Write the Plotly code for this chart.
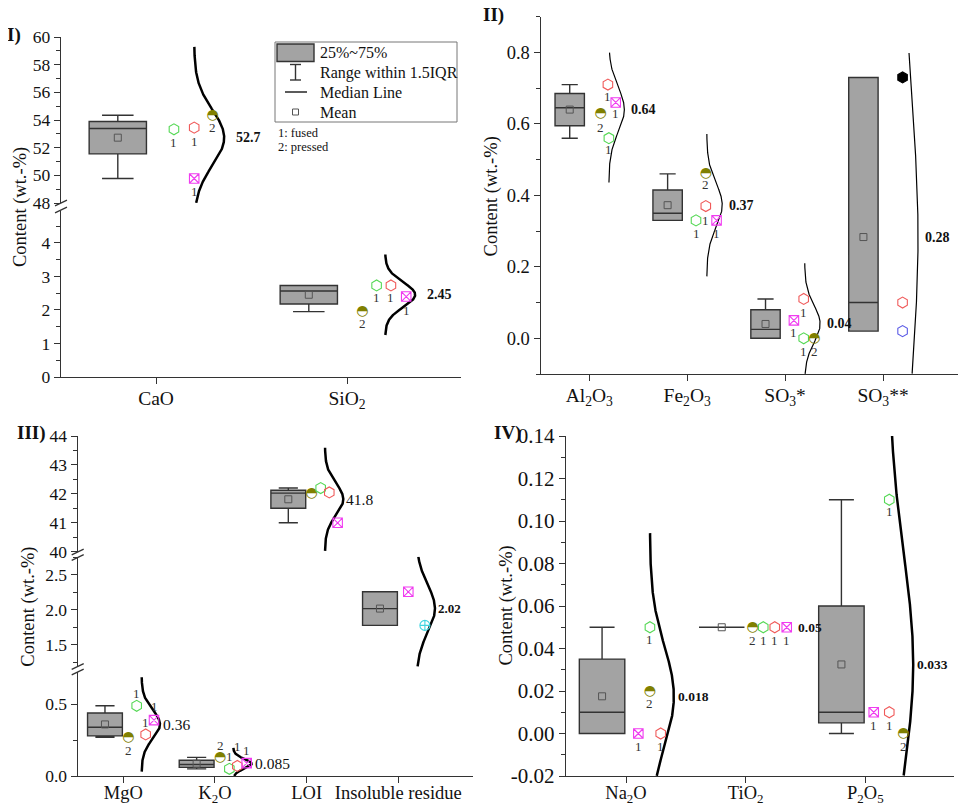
import numpy as np
import plotly.graph_objects as go
from decimal import Decimal, ROUND_HALF_UP

# page body has an 8 px margin: the figure is drawn at (8, 8) in the window
OFF = 8
W, H = 966 - 2 * OFF, 812 - 2 * OFF
FONT = "Liberation Serif"
AX = "#333333"

# ============================ DATA ============================
# point series keys: g = green, r = red, o = olive (pressed), m = magenta,
#                    b = blue, k = black, c = cyan
# Panel I
cats_I = ["CaO", "SiO<sub>2</sub>"]
CaO = [53.33, 53.45, 54.34, 49.77]
CaO_ser = ["g", "r", "o", "m"]
CaO_prep = ["1", "1", "2", "1"]
SiO2 = [1.95, 2.73, 2.73, 2.40]
SiO2_ser = ["o", "g", "r", "m"]
SiO2_prep = ["2", "1", "1", "1"]

# Panel II
cats_II = ["Al<sub>2</sub>O<sub>3</sub>", "Fe<sub>2</sub>O<sub>3</sub>",
           "SO<sub>3</sub>*", "SO<sub>3</sub>**"]
Al2O3 = [0.71, 0.66, 0.63, 0.56]
Al2O3_ser = ["r", "m", "o", "g"]
Al2O3_prep = ["1", "1", "2", "1"]
Fe2O3 = [0.46, 0.37, 0.33, 0.33]
Fe2O3_ser = ["o", "r", "g", "m"]
Fe2O3_prep = ["2", "1", "1", "1"]
SO3a = [0.11, 0.05, 0.00, 0.00]
SO3a_ser = ["r", "m", "g", "o"]
SO3a_prep = ["1", "1", "1", "2"]
SO3b = [0.73, 0.10, 0.02]
SO3b_ser = ["k", "r", "b"]
SO3b_prep = ["", "", ""]

# Panel III
cats_III = ["MgO", "K<sub>2</sub>O", "LOI", "Insoluble residue"]
MgO = [0.49, 0.39, 0.29, 0.27]
MgO_ser = ["g", "m", "r", "o"]
MgO_prep = ["1", "1", "1", "2"]
K2O = [0.13, 0.05, 0.07, 0.09]
K2O_ser = ["o", "g", "r", "m"]
K2O_prep = ["2", "1", "1", "1"]
LOI = [42.00, 42.20, 42.05, 41.00]
LOI_ser = ["o", "g", "r", "m"]
LOI_prep = ["", "", "", ""]
Insol = [2.26, 1.78]
Insol_ser = ["m", "c"]
Insol_prep = ["", ""]

# Panel IV
cats_IV = ["Na<sub>2</sub>O", "TiO<sub>2</sub>", "P<sub>2</sub>O<sub>5</sub>"]
Na2O = [0.05, 0.02, 0.00, 0.00]
Na2O_ser = ["g", "o", "m", "r"]
Na2O_prep = ["1", "2", "1", "1"]
TiO2 = [0.05, 0.05, 0.05, 0.05]
TiO2_ser = ["o", "g", "r", "m"]
TiO2_prep = ["2", "1", "1", "1"]
P2O5 = [0.11, 0.01, 0.01, 0.00]
P2O5_ser = ["g", "m", "r", "o"]
P2O5_prep = ["1", "1", "1", "2"]

# decimals of the printed mean values
mean_dec = {"CaO": 1, "SiO2": 2, "Al2O3": 2, "Fe2O3": 2, "SO3a": 2, "SO3b": 2,
            "MgO": 2, "K2O": 3, "LOI": 1, "Insol": 2, "Na2O": 3, "TiO2": 2, "P2O5": 3}

# ============================ STYLE / LAYOUT ============================
def PX(x):
    return min(1.0, max(0.0, (x - OFF) / W))


def PY(y):
    return min(1.0, max(0.0, 1 - (y - OFF) / H))


MARK = {
    "g": dict(symbol="hexagon-open", color="#55d855", size=11),
    "r": dict(symbol="hexagon-open", color="#f05a5a", size=11),
    "m": dict(symbol="square-x-open", color="#f03cf0", size=9.5),
    "b": dict(symbol="hexagon-open", color="#5a5ae6", size=11),
    "k": dict(symbol="hexagon", color="#000000", size=11),
    "c": dict(symbol="circle-cross-open", color="#40d4e0", size=10),
}
OLIVE = "#808000"

# per-point horizontal offsets (category units) and label vertical shifts (px)
point_off = {
    "CaO": [0.094, 0.20, 0.297, 0.20], "SiO2": [0.08, 0.155, 0.23, 0.31],
    "Al2O3": [0.19, 0.27, 0.115, 0.20], "Fe2O3": [0.19, 0.19, 0.09, 0.30],
    "SO3a": [0.19, 0.09, 0.19, 0.30], "SO3b": [0.20, 0.20, 0.20],
    "MgO": [0.146, 0.335, 0.244, 0.055], "K2O": [0.055, 0.157, 0.244, 0.346],
    "LOI": [0.055, 0.153, 0.247, 0.338], "Insol": [0.109, 0.29],
    "Na2O": [0.20, 0.20, 0.103, 0.29], "TiO2": [0.058, 0.147, 0.243, 0.343],
    "P2O5": [0.20, 0.07, 0.20, 0.317],
}
label_dy = {
    "CaO": [-13, -14, -12, -13], "SiO2": [-12, -12, -12, -14],
    "Al2O3": [-12, -11, -14, -11], "Fe2O3": [-11, -14, -13, -13],
    "SO3a": [-14, -12, -13, -13], "SO3b": [0, 0, 0],
    "MgO": [12, 14, 12, -13], "K2O": [12, 12, 19, 13],
    "LOI": [0, 0, 0, 0], "Insol": [0, 0],
    "Na2O": [-12, -12, -13, -13], "TiO2": [-13, -13, -13, -13],
    "P2O5": [-12, -13, -13, -13],
}

panels = [
    dict(xa="x", cats=cats_I, xpx=(61, 461), tick1=156, unit=191.0,
         amp=0.157, boxw=0.30, curve_w=2.5, vshift=10, xfs=19.5, stand=-3,
         items=[("CaO", CaO, CaO_ser, CaO_prep, "y2", True, 14),
                ("SiO2", SiO2, SiO2_ser, SiO2_prep, "y", True, 14)]),
    dict(xa="x2", cats=cats_II, xpx=(540.7, 958), tick1=589.3, unit=97.9,
         amp=0.158, boxw=0.30, curve_w=1.2, vshift=5, xfs=19.5, stand=-3,
         items=[("Al2O3", Al2O3, Al2O3_ser, Al2O3_prep, "y3", True, 14),
                ("Fe2O3", Fe2O3, Fe2O3_ser, Fe2O3_prep, "y3", True, 14),
                ("SO3a", SO3a, SO3a_ser, SO3a_prep, "y3", True, 14),
                ("SO3b", SO3b, SO3b_ser, SO3b_prep, "y3", True, 14)]),
    dict(xa="x3", cats=cats_III, xpx=(77.7, 472.7), tick1=123.3, unit=91.67,
         amp=0.20, boxw=0.38, curve_w=2.5, vshift=1, xfs=18.5, stand=-6,
         items=[("MgO", MgO, MgO_ser, MgO_prep, "y4", False, 15.5),
                ("K2O", K2O, K2O_ser, K2O_prep, "y4", False, 15.5),
                ("LOI", LOI, LOI_ser, LOI_prep, "y6", False, 15.5),
                ("Insol", Insol, Insol_ser, Insol_prep, "y5", True, 13)]),
    dict(xa="x4", cats=cats_IV, xpx=(566, 954), tick1=626, unit=119.67,
         amp=0.20, boxw=0.38, curve_w=2.5, vshift=2, xfs=18.5, stand=-6,
         items=[("Na2O", Na2O, Na2O_ser, Na2O_prep, "y7", True, 13.5),
                ("TiO2", TiO2, TiO2_ser, TiO2_prep, "y7", True, 13.5),
                ("P2O5", P2O5, P2O5_ser, P2O5_prep, "y7", True, 13.5)]),
]

# y axes: pixel domain (bottom, top), range, major / minor step, decimals, anchor, font size
yaxes = {
    "y":  dict(px=(377, 211), rng=(0, 4.95), d=1, md=0.5, dec=0, anchor="x", fs=17.5),
    "y2": dict(px=(203, 37), rng=(48, 60), d=2, md=1, dec=0, anchor="x", fs=17.5),
    "y3": dict(px=(374, 16.7), rng=(-0.1, 0.9), d=0.2, md=0.1, dec=1, anchor="x2", fs=18.5),
    "y4": dict(px=(776, 671.7), rng=(0, 0.728), d=0.5, md=0.25, dec=1, anchor="x3", fs=17.5),
    "y5": dict(px=(666.7, 556.7), rng=(1.19, 2.761), d=0.5, md=0.25, dec=1, anchor="x3", fs=17.5),
    "y6": dict(px=(551.7, 436), rng=(40, 44), d=1, md=0.5, dec=0, anchor="x3", fs=17.5),
    "y7": dict(px=(776, 436), rng=(-0.02, 0.14), d=0.02, md=0.01, dec=2, anchor="x4", fs=21),
}
curve_clip = {"y3": (-0.1, 0.8)}
x_anchor = {"x": "y", "x2": "y3", "x3": "y4", "x4": "y7"}


def fmt_mean(m, d):
    q = Decimal(1).scaleb(-d)
    return str(Decimal(repr(round(float(m), 9))).quantize(q, rounding=ROUND_HALF_UP))


def tick_list(lo, hi, step, start):
    k0 = int(np.ceil((lo - start) / step - 1e-9))
    k1 = int(np.floor((hi - start) / step + 1e-9))
    return [round(start + k * step, 6) + 0.0 for k in range(k0, k1 + 1)]


fig = go.Figure()
annotations = []
shapes = []

for P in panels:
    xa = P["xa"]
    for ci, (key, vals, ser, prep, ya, bold, fs) in enumerate(P["items"]):
        pos = ci + 1
        v = np.array(vals, dtype=float)
        n = len(v)
        # box (quartiles computed by plotly from the values)
        fig.add_trace(go.Box(
            x=[pos - 0.2] * n, y=v, xaxis=xa, yaxis=ya, width=P["boxw"],
            boxpoints=False, quartilemethod="exclusive", whiskerwidth=0.55,
            fillcolor="#a3a3a3", line=dict(color=AX, width=1.4),
            showlegend=False, hoverinfo="skip"))
        m = float(v.mean())
        # mean marker
        fig.add_trace(go.Scatter(
            x=[pos - 0.2], y=[m], xaxis=xa, yaxis=ya, mode="markers",
            marker=dict(symbol="square-open", size=7, color="#555555",
                        line=dict(width=1)),
            showlegend=False, hoverinfo="skip"))
        # normal distribution curve fitted to the points
        if n > 1 and v.std(ddof=1) > 0:
            s = v.std(ddof=1)
            z = np.linspace(-3.25, 3.25, 801)
            yy = m + z * s
            xx = pos + 0.2 + P["amp"] * np.exp(-z ** 2 / 2)
            lo, hi = curve_clip.get(ya, yaxes[ya]["rng"])
            keep = (yy >= lo) & (yy <= hi)
            fig.add_trace(go.Scatter(
                x=xx[keep], y=yy[keep], xaxis=xa, yaxis=ya, mode="lines",
                line=dict(color="black", width=P["curve_w"]),
                showlegend=False, hoverinfo="skip"))
        # points
        offs = point_off[key]
        dys = label_dy[key]
        for j in range(n):
            px_ = pos + offs[j]
            if ser[j] == "o":
                fig.add_trace(go.Scatter(
                    x=[px_], y=[v[j]], xaxis=xa, yaxis=ya, mode="text",
                    text=["\u25D3"], textposition="middle center",
                    textfont=dict(family="DejaVu Sans", size=14, color=OLIVE),
                    showlegend=False, hoverinfo="skip"))
            else:
                st = MARK[ser[j]]
                fig.add_trace(go.Scatter(
                    x=[px_], y=[v[j]], xaxis=xa, yaxis=ya, mode="markers",
                    marker=dict(symbol=st["symbol"], size=st["size"], color=st["color"],
                                line=dict(width=1.1, color=st["color"])),
                    showlegend=False, hoverinfo="skip"))
            if prep[j]:
                annotations.append(dict(
                    x=px_, y=float(v[j]), xref=xa, yref=ya, text=prep[j], showarrow=False,
                    xanchor="center", yanchor="middle",
                    yshift=dys[j], font=dict(family=FONT, size=13, color="#333333")))
        # mean value label
        txt = fmt_mean(m, mean_dec[key])
        annotations.append(dict(
            x=pos + 0.2 + P["amp"], y=m, xref=xa, yref=ya, xanchor="left",
            yanchor="middle", xshift=P["vshift"], showarrow=False,
            text=("<b>%s</b>" % txt) if bold else txt,
            font=dict(family=FONT, size=fs, color="#111111")))

layout = dict(
    width=W, height=H, template="none", autosize=False,
    margin=dict(l=0, r=0, t=0, b=0), paper_bgcolor="white", plot_bgcolor="white",
    showlegend=False, font=dict(family=FONT, color="#111111"), boxmode="overlay",
)

# x axes
for i, P in enumerate(panels):
    name = "xaxis" if i == 0 else "xaxis%d" % (i + 1)
    a, b = P["xpx"]
    nc = len(P["cats"])
    xr = [1 - (P["tick1"] - a) / P["unit"],
          nc + (b - (P["tick1"] + (nc - 1) * P["unit"])) / P["unit"]]
    layout[name] = dict(
        domain=[PX(a), PX(b)], range=xr, anchor=x_anchor[P["xa"]],
        showline=True, linecolor=AX, linewidth=1.4, ticks="outside", ticklen=6,
        tickwidth=1.3, tickcolor=AX, tickmode="array", ticklabelstandoff=P["stand"],
        tickvals=list(range(1, nc + 1)), ticktext=P["cats"],
        tickfont=dict(family=FONT, size=P["xfs"], color="#111111"),
        showgrid=False, zeroline=False, automargin=False, fixedrange=True)

# y axes
for k, Y in yaxes.items():
    name = "yaxis" if k == "y" else "yaxis" + k[1:]
    lo, hi = Y["rng"]
    tv = tick_list(lo, hi, Y["d"], 0.0)
    mv = tick_list(lo, hi, Y["md"], 0.0)
    tt = [("%.*f" % (Y["dec"], t)) for t in tv]
    layout[name] = dict(
        domain=[PY(Y["px"][0]), PY(Y["px"][1])], range=[lo, hi], anchor=Y["anchor"],
        showline=True, linecolor=AX, linewidth=1.4, ticks="outside", ticklen=6,
        tickwidth=1.3, tickcolor=AX, tickmode="array", tickvals=tv, ticktext=tt,
        minor=dict(tickmode="array", tickvals=mv, ticks="outside", ticklen=3.5,
                   tickwidth=1.1, tickcolor=AX, showgrid=False),
        tickfont=dict(family=FONT, size=Y["fs"], color="#111111"),
        showgrid=False, zeroline=False, automargin=False, fixedrange=True)


# axis break marks
def brk(xpx, ypx):
    shapes.append(dict(type="line", xref="paper", yref="paper",
                       x0=PX(xpx - 6), y0=PY(ypx + 2.8), x1=PX(xpx + 6), y1=PY(ypx - 2.8),
                       line=dict(color=AX, width=1.3)))


for xpx, ypx in [(61, 203), (61, 210), (77.7, 552), (77.7, 557.5), (77.7, 666.5), (77.7, 672)]:
    brk(xpx, ypx)


def ptext(txt, xp, yp, size, xanchor="center", angle=0):
    annotations.append(dict(x=PX(xp), y=PY(yp), xref="paper", yref="paper",
                            xanchor=xanchor, yanchor="middle", textangle=angle,
                            text=txt, showarrow=False,
                            font=dict(family=FONT, size=size, color="#111111")))


# y titles and panel labels
for (xp, yp) in [(20, 207), (491.7, 196.7), (29, 606.7), (505.5, 605)]:
    ptext("Content (wt.-%)", xp, yp, 18.5, angle=-90)
for (txt, xp, yp) in [("I)", 14, 35), ("II)", 494, 15), ("III)", 31, 433), ("IV)", 507, 433)]:
    ptext("<b>%s</b>" % txt, xp, yp, 19)


# legend (panel I)
def rect(x0, y0, x1, y1, **kw):
    shapes.append(dict(type="rect", xref="paper", yref="paper",
                       x0=PX(x0), y0=PY(y1), x1=PX(x1), y1=PY(y0), **kw))


def seg(x0, y0, x1, y1, w=1.4, c=AX):
    shapes.append(dict(type="line", xref="paper", yref="paper",
                       x0=PX(x0), y0=PY(y0), x1=PX(x1), y1=PY(y1),
                       line=dict(color=c, width=w)))


rect(275, 42, 457, 122, line=dict(color="#777777", width=1), fillcolor="white")
rect(277, 44, 314, 61.5, line=dict(color=AX, width=1.4), fillcolor="#a3a3a3")
seg(295.5, 64.5, 295.5, 80)
seg(290, 64.5, 301, 64.5)
seg(290, 80, 301, 80)
seg(285, 92, 307, 92, w=1.6)
rect(292.5, 109, 298.5, 115, line=dict(color="#555555", width=1))
for txt, yp in [("25%~75%", 53), ("Range within 1.5IQR", 72.5), ("Median Line", 92), ("Mean", 112)]:
    ptext(txt, 318, yp, 16, xanchor="left")
for txt, yp in [("1: fused", 133), ("2: pressed", 147)]:
    ptext(txt, 276, yp, 12.5, xanchor="left")

layout["annotations"] = annotations
layout["shapes"] = shapes
fig.update_layout(**layout)
fig.write_html("out.html")
